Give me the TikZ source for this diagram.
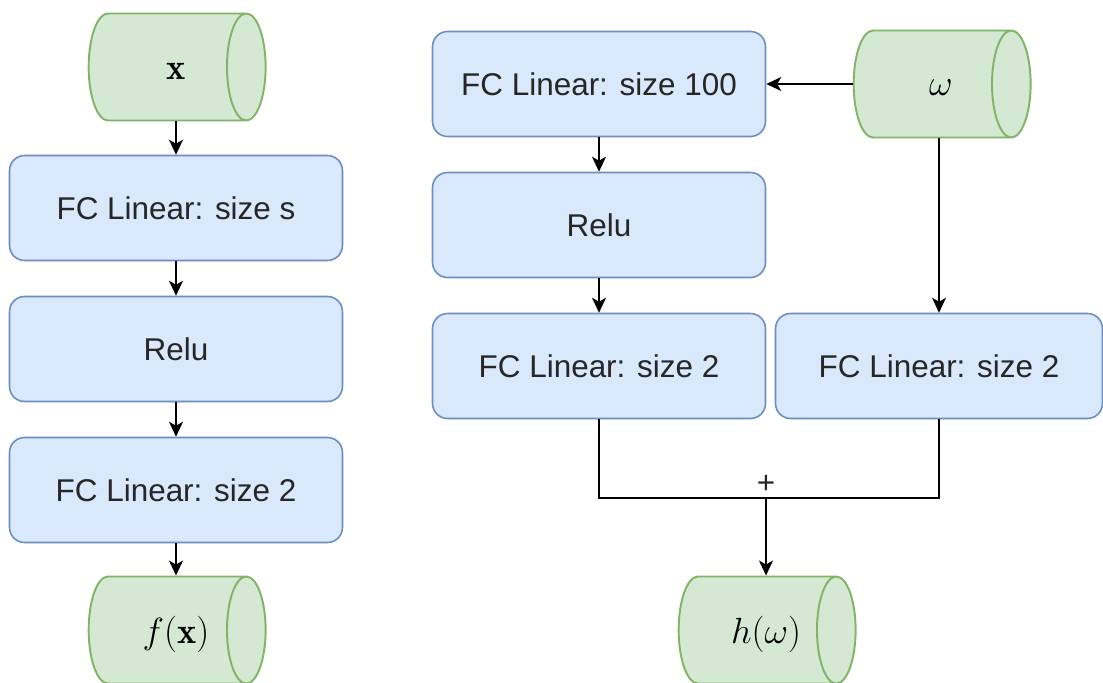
\documentclass[tikz,border=0pt]{standalone}
\usepackage{fontspec}
\setsansfont{Liberation Sans}
\usetikzlibrary{shapes.geometric,arrows.meta}
\definecolor{layerfill}{HTML}{DAE8FC}
\definecolor{layerdraw}{HTML}{6C8EBF}
\definecolor{datafill}{HTML}{D5E8D4}
\definecolor{datadraw}{HTML}{82B366}
\tikzset{%
  layer/.style = {shape=rectangle, rounded corners=0.3cm,%
                  draw=layerdraw, fill=layerfill, line width=0.9pt,%
                  minimum width=6.66cm, minimum height=2.1cm, text=black!85,%
                  font=\sffamily\fontsize{17.9}{20}\selectfont},%
  data/.style  = {shape=cylinder, draw=datadraw, line width=1.1pt, aspect=2.2,%
                  cylinder uses custom fill, cylinder body fill=datafill,%
                  cylinder end fill=datafill, inner sep=0pt,%
                  text height=0.75em, text depth=0.25em,%
                  minimum width=2.14cm, minimum height=3.54cm,%
                  font=\fontsize{20.74}{24}\selectfont,%
                  label={[xshift=0.18cm, yshift=-0.08cm,%
                          font=\fontsize{20.74}{24}\selectfont]center:#1}},%
  flow/.style  = {-{Stealth[length=0.3cm,width=0.28cm,inset=0.08cm]},%
                  line width=0.85pt}%
}
\begin{document}
\begin{tikzpicture}[x=0.02cm,y=-0.02cm]
  \useasboundingbox (0,0) rectangle (1103,683);
  % left network
  \node [data=$\mathbf{x}$]     (xin)    at (167,67)  {};
  \node [layer]                 (fcs)    at (176,208) {FC Linear: size s};
  \node [layer]                 (relua)  at (176,349) {Relu};
  \node [layer]                 (fcouta) at (176,490) {FC Linear: size 2};
  \node [data=$f(\mathbf{x})$]  (fx)     at (167,630) {};
  \draw [flow] (xin.south -| fcs.north) -- (fcs.north);
  \draw [flow] (fcs) -- (relua);
  \draw [flow] (relua) -- (fcouta);
  \draw [flow] (fcouta.south) -- (fcouta.south |- fx.north);
  % right network
  \node [layer]                 (fchund) at (599,84)  {FC Linear: size 100};
  \node [data=$\omega$]         (win)    at (932,84)  {};
  \node [layer]                 (relub)  at (599,225) {Relu};
  \node [layer]                 (fcoutb) at (599,366) {FC Linear: size 2};
  \node [layer, minimum width=6.54cm] (fcoutw) at (939,366) {FC Linear: size 2};
  \node [data=$h(\omega)$]      (hw)     at (757,630) {};
  \coordinate (sum) at (766,498);
  \draw [flow] (win.west) -- (fchund.east);
  \draw [flow] (fchund) -- (relub);
  \draw [flow] (relub) -- (fcoutb);
  \draw [flow] (win.south -| fcoutw.north) -- (fcoutw.north);
  \draw [line width=0.85pt] (fcoutb.south) |- (sum) -| (fcoutw.south);
  \node [font=\sffamily\fontsize{17.9}{20}\selectfont, text=black!85, above=-1pt]
    (plus) at (sum) {+};
  \draw [flow] (sum) -- (sum |- hw.north);
\end{tikzpicture}
\end{document}
